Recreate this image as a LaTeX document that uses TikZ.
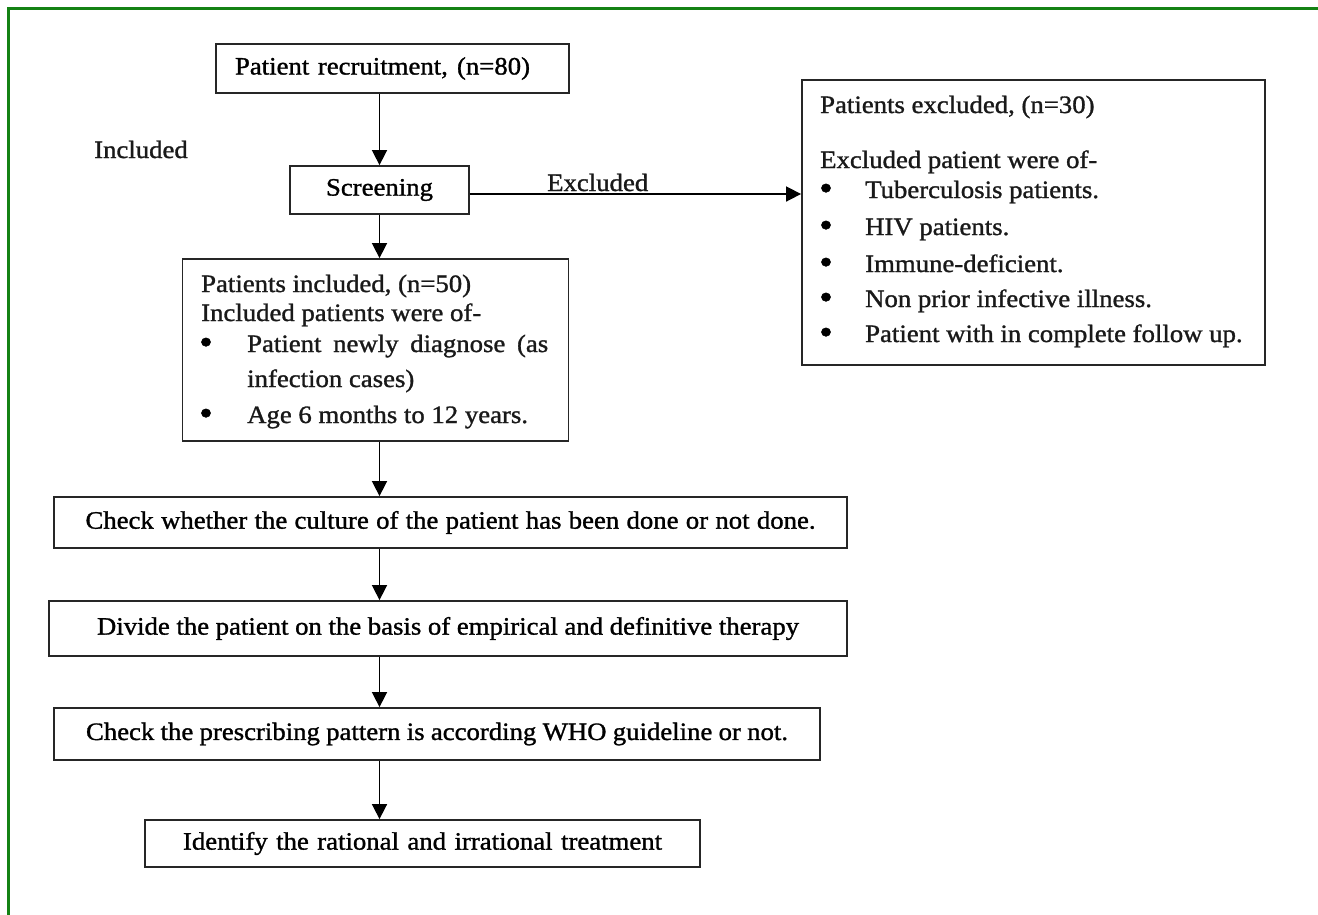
\documentclass[tikz,border=0pt]{standalone}
\usepackage{fontspec}
\setmainfont{Liberation Serif}[FakeStretch=1.07, FakeBold=1.2]
\usetikzlibrary{arrows.meta,calc}
\definecolor{frameg}{RGB}{20,130,20}
\begin{document}
\begin{tikzpicture}[x=1pt,y=-1pt,
  font=\fontsize{25}{30}\selectfont,
  box/.style={draw=black!85, line width=1.8pt, inner sep=0pt},
  arr/.style={draw=black, line width=1.6pt, -{Triangle[length=15pt,width=15pt]}},
  txt/.style={inner sep=0pt, anchor=base west, text=black!90},
  bul/.style={inner sep=0pt, anchor=base, text=black, font=\fontsize{36}{36}\selectfont},
  frameline/.style={draw=frameg, line width=3pt}]
\useasboundingbox (0,0) rectangle (1318,914);
\coordinate (f1) at (8,940);
\coordinate (f2) at (8,8);
\coordinate (f3) at (1340,8);
\draw[frameline] (f1) -- (f2) -- (f3);

% boxes
\node[box, minimum width=353pt, minimum height=49pt] (recruit) at (392.5,68.5)
  {\makebox[295pt][s]{Patient recruitment, (n=80)}\hspace*{20pt}};
\node[txt] (inclab) at (94,158) {Included};
\node[box, minimum width=179pt, minimum height=48pt] (screen) at (379.5,190) {Screening};
\node[box, minimum width=463pt, minimum height=285pt] (excl) at (1033.5,222.5) {};
\node[box, minimum width=386pt, minimum height=182pt] (incl) at (375.5,350) {};
\node[box, minimum width=793pt, minimum height=51pt] (check) at (450.5,522.5)
  {\makebox[730pt][s]{Check whether the culture of the patient has been done or not done.}};
\node[box, minimum width=798pt, minimum height=55pt] (divide) at (448,628.5)
  {\makebox[702pt][s]{Divide the patient on the basis of empirical and definitive therapy}};
\node[box, minimum width=766pt, minimum height=52pt] (presc) at (437,734)
  {\makebox[702pt][s]{Check the prescribing pattern is according WHO guideline or not.}};
\node[box, minimum width=555pt, minimum height=47pt] (ident) at (422.5,843.5)
  {\makebox[479pt][s]{Identify the rational and irrational treatment}};

% excluded box text
\node[txt] (ex1) at (820,113) {Patients excluded, (n=30)};
\node[txt] (ex2) at (820,168) {Excluded patient were of-};
\node[bul] (eb1) at (826,200) {\textbullet};
\node[txt] (ex3) at (865,198) {Tuberculosis patients.};
\node[bul] (eb2) at (826,237) {\textbullet};
\node[txt] (ex4) at (865,235) {HIV patients.};
\node[bul] (eb3) at (826,274) {\textbullet};
\node[txt] (ex5) at (865,272) {Immune-deficient.};
\node[bul] (eb4) at (826,309) {\textbullet};
\node[txt] (ex6) at (865,307) {Non prior infective illness.};
\node[bul] (eb5) at (826,344) {\textbullet};
\node[txt] (ex7) at (865,342) {Patient with in complete follow up.};

% included box text
\node[txt] (in1) at (201,292) {Patients included, (n=50)};
\node[txt] (in2) at (201,321) {Included patients were of-};
\node[bul] (ib1) at (206,354) {\textbullet};
\node[txt] (in3) at (247,352) {\makebox[301pt][s]{Patient newly diagnose (as}};
\node[txt] (in4) at (247,387) {infection cases)};
\node[bul] (ib2) at (206,425) {\textbullet};
\node[txt] (in5) at (247,423) {Age 6 months to 12 years.};

% connectors
\draw[arr] (recruit.south -| screen.north) -- (screen.north);
\draw[arr] (screen.south) -- (incl.north -| screen.south);
\draw[arr] (incl.south -| screen.south) -- (check.north -| screen.south);
\draw[arr] (check.south -| screen.south) -- (divide.north -| screen.south);
\draw[arr] (divide.south -| screen.south) -- (presc.north -| screen.south);
\draw[arr] (presc.south -| screen.south) -- (ident.north -| screen.south);
\coordinate (sx) at ([yshift=-4pt]screen.east);
\draw[arr] (sx) -- (excl.west |- sx);
\node[txt] (exlab) at (547,191) {Excluded};
\end{tikzpicture}
\end{document}
